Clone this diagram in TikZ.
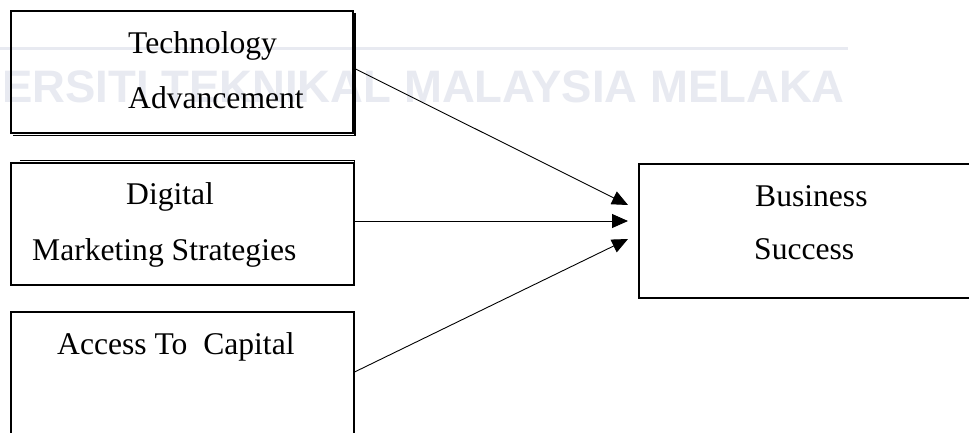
\documentclass[tikz,border=0pt]{standalone}
\usepackage{fontspec}
\setmainfont{Liberation Serif}
\newfontfamily\wmfont{Liberation Sans}
\usetikzlibrary{arrows.meta}
\definecolor{wmgray}{HTML}{E8EAF1}
\tikzset{
  box/.style={draw=black, line width=1.1pt, inner sep=0pt},
  shadowline/.style={draw=black, line width=1.3pt},
  lbl/.style={anchor=base west, inner sep=0pt, font=\fontsize{31.6}{38}\selectfont},
  link/.style={line width=0.9pt, -{Triangle[length=16pt,width=14pt]}},
  wmtext/.style={anchor=base west, inner sep=0pt, text=wmgray, font=\wmfont\bfseries\fontsize{45.5}{50}\selectfont}
}
\begin{document}
\begin{tikzpicture}[x=1pt,y=-1pt]
\useasboundingbox (0,0) rectangle (969,432);
\clip (0,0) rectangle (969,432);
\fill[white] (0,0) rectangle (969,432);
% watermark
\draw[wmgray, line width=3pt] (0,48) -- (848,48);
\node[wmtext] (wm) at (2,102) {ERSITI TEKNIKAL MALAYSIA MELAKA};
% boxes
\draw[shadowline] (355,13) -- (355,135.5) -- (13,135.5);
\node[box, minimum width=342pt, minimum height=122pt] (b1) at (182,72) {};
\draw[shadowline] (20,160.5) -- (354.5,160.5) -- (354.5,284);
\node[box, minimum width=343pt, minimum height=122pt] (b2) at (182.5,224) {};
\node[box, minimum width=343pt, minimum height=128pt] (b3) at (182.5,376) {};
\node[box, line width=2pt, minimum width=340pt, minimum height=134pt] (b4) at (809,231) {};
% labels
\node[lbl] (tTech) at (128,53) {Technology};
\node[lbl] (tAdv) at (128,108) {Advancement};
\node[lbl] (tDig) at (126,204) {Digital};
\node[lbl] (tMkt) at (32,260) {Marketing Strategies};
\node[lbl] (tAcc) at (57,354) {Access To\ \ Capital};
\node[lbl] (tBus) at (755,206) {Business};
\node[lbl] (tSuc) at (754,259) {Success};
% connectors
\coordinate (s1) at (b1.east |- 0,68);
\coordinate (s2) at (b2.east |- 0,221);
\coordinate (s3) at (b3.east |- 0,372);
\coordinate (t1) at (628,205);
\coordinate (t2) at (628,221);
\coordinate (t3) at (628,239);
\draw[link] (s1) -- (t1);
\draw[link] (s2) -- (t2);
\draw[link] (s3) -- (t3);
\end{tikzpicture}
\end{document}
